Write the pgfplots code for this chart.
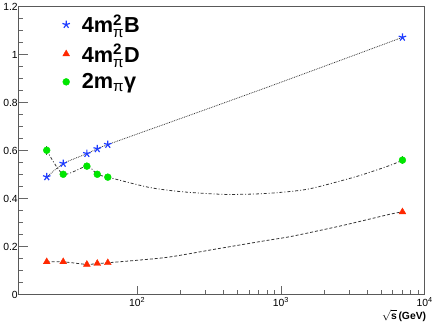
\documentclass[border=0pt]{standalone}
\usepackage{fontspec}
\setmainfont{Liberation Sans}
\usepackage{amsmath}
\usepackage{pgfplots}
\pgfplotsset{compat=1.18}
\definecolor{cB}{RGB}{30,60,255}
\definecolor{cR}{RGB}{255,40,0}
\definecolor{cG}{RGB}{0,230,0}
\begin{document}
\begin{tikzpicture}
\begin{axis}[
  scale only axis, width=412pt, height=292pt,
  xmode=log, xmin=15, xmax=10000, ymin=0, ymax=1.2,
  xtick={100,1000,10000},
  xticklabels={10\textsuperscript{2},10\textsuperscript{3},10\textsuperscript{4}},
  ytick={0,0.2,0.4,0.6,0.8,1,1.2},
  yticklabels={0,0.2,0.4,0.6,0.8,1,1.2},
  minor y tick num=3,
  tick pos=left, tick align=inside,
  major tick length=9pt, minor tick length=4.5pt,
  tick style={black!60, line width=0.8pt},
  axis line style={black!65, line width=0.9pt},
  tick label style={font=\fontsize{10.5}{12}\selectfont},
  yticklabel style={xshift=2.5pt},
  xticklabel style={yshift=1pt},
  xlabel={$\sqrt{\mbox{\bfseries s}}$\,\textbf{(GeV)}},
  xlabel style={at={(axis description cs:1,0)}, anchor=north east, yshift=-12pt, xshift=5pt, font=\fontsize{10.5}{12}\selectfont},
  legend style={at={(axis description cs:0.1,0.985)}, anchor=north west, draw=none, fill=none,
    font=\bfseries\fontsize{22}{24}\selectfont, row sep=7pt, column sep=10pt, cells={anchor=west},
    nodes={inner xsep=2pt, inner ysep=1.5pt}},
  legend cell align=left,
]
% curves
\addplot[forget plot, black!80, densely dotted, line width=0.8pt, smooth, tension=0.3] coordinates {
 (23.5,0.491) (30.6,0.547) (44.7,0.588) (52.8,0.608) (62.5,0.626) (269,0.762) (805,0.865) (2483,0.973) (7000,1.073)};
\addplot[forget plot, black!80, dash pattern=on 3pt off 2pt on 1pt off 2pt, line width=0.8pt, smooth, tension=0.4] coordinates {
 (23.5,0.602) (30.6,0.502) (44.7,0.536) (52.8,0.502) (62.5,0.490) (121.6,0.447) (206,0.429) (411,0.418) (796,0.422) (1542,0.440) (3412,0.494) (5794,0.540) (7000,0.561)};
\addplot[forget plot, black!80, dash pattern=on 3pt off 2pt, line width=0.8pt, smooth, tension=0.4] coordinates {
 (23.5,0.137) (30.6,0.137) (44.7,0.126) (52.8,0.130) (62.5,0.133) (158.5,0.155) (351,0.190) (796,0.226) (1183,0.243) (2618,0.287) (5794,0.336) (7000,0.345)};
% markers
\addplot[only marks, mark=star, mark size=4pt, cB, mark options={line width=1.2pt}] coordinates {
 (23.5,0.491) (30.6,0.547) (44.7,0.588) (52.8,0.608) (62.5,0.626) (7000,1.073)};
\addlegendentry{4m$^{\text{2}}_{\text{\mdseries π}}$B}
\addplot[only marks, mark=triangle*, mark size=4pt, cR] coordinates {
 (23.5,0.137) (30.6,0.137) (44.7,0.126) (52.8,0.130) (62.5,0.133) (7000,0.345)};
\addlegendentry{4m$^{\text{2}}_{\text{\mdseries π}}$D}
\addplot[only marks, mark=*, mark size=3.5pt, cG, mark options={draw=cG},
  error bars/.cd, y dir=both, y explicit, error bar style={black!70, line width=0.6pt}, error mark=none] coordinates {
 (23.5,0.602) +- (0,0.018) (30.6,0.502) +- (0,0.012) (44.7,0.536) +- (0,0.012) (52.8,0.502) +- (0,0.012) (62.5,0.490) +- (0,0.012) (7000,0.561) +- (0,0.016)};
\addlegendentry{2m$_{\text{\mdseries π}}$γ}
\end{axis}
\end{tikzpicture}
\end{document}
